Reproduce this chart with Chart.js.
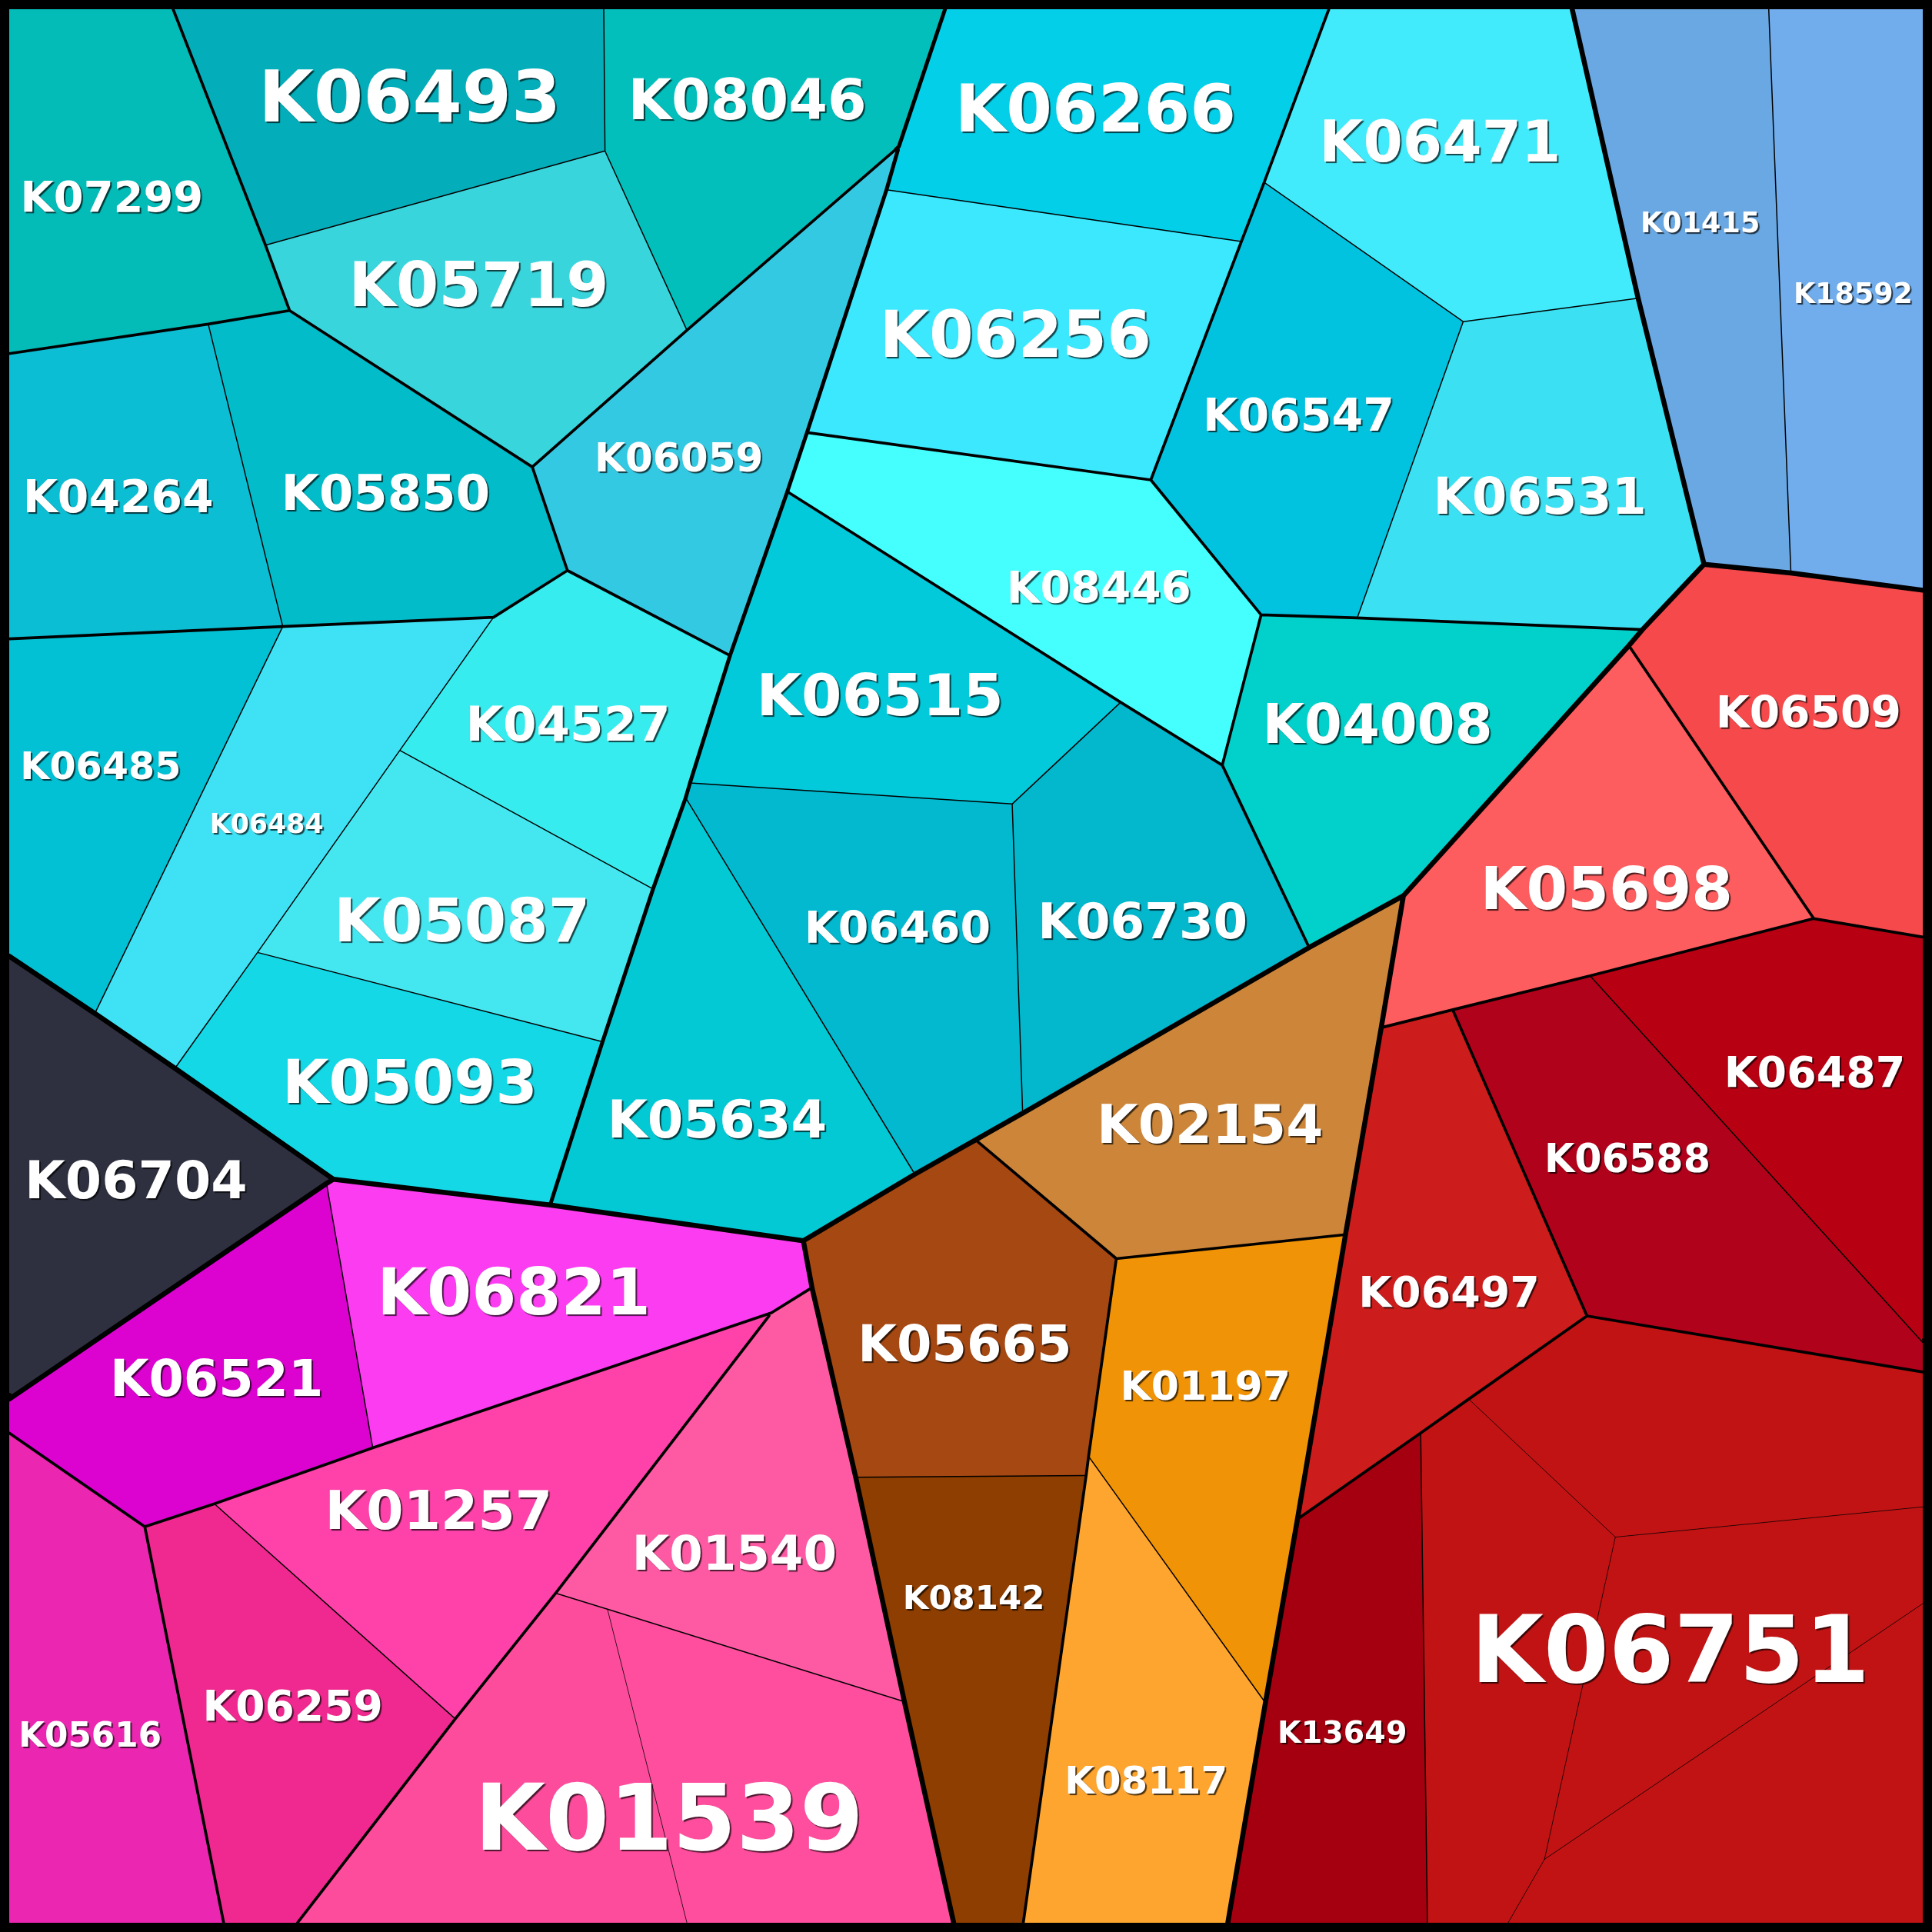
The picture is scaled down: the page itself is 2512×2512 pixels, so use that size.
<!DOCTYPE html>
<html>
<head>
<meta charset="utf-8">
<script src="https://cdn.jsdelivr.net/npm/chart.js@4.4.1/dist/chart.umd.min.js"></script>
<style>
  html, body { margin: 0; padding: 0; background: #000; }
  #wrap { width: 2512px; height: 2512px; }
</style>
</head>
<body>
<div id="wrap"><canvas id="myChart"></canvas></div>
<script>
// voronoi treemap cells, coordinates in picture units (0..1568)
const cellLabels = [
  "K07299", "K06493", "K08046", "K05719", "K04264", "K05850", "K06059",
  "K04527", "K05087", "K05093", "K06484", "K06485",
  "K06266", "K06256", "K06471", "K06547", "K06531", "K08446", "K04008",
  "K06515", "K06460", "K06730", "K05634",
  "K01415", "K18592", "K06704",
  "K06821", "K06521", "K05616", "K06259", "K01257", "K01540", "K01539", "K01539",
  "K02154", "K05665", "K08142", "K01197", "K08117",
  "K06509", "K05698", "K06487", "K06588", "K06497", "K13649",
  "K06751", "K06751", "K06751", "K06751"
];

// hierarchy: group / subgroup / cluster
const cellGroups = [
  "C/CL/t1", "C/CL/t2", "C/CL/t2", "C/CL/t2", "C/CL/t3", "C/CL/t3", "C/CL/t4",
  "C/CL/t5", "C/CL/t5", "C/CL/t5", "C/CL/t5", "C/CL/t5",
  "C/CR/r1", "C/CR/r1", "C/CR/r2", "C/CR/r2", "C/CR/r2", "C/CR/r3", "C/CR/r4",
  "C/CR/r5", "C/CR/r5", "C/CR/r5", "C/CR/r5",
  "B/B/b", "B/B/b", "D/D/d",
  "P/P/p1", "P/P/p1", "P/P/p2", "P/P/p3", "P/P/p3", "P/P/p4", "P/P/p4", "P/P/p4",
  "O/O/o1", "O/O/o2", "O/O/o2", "O/O/o3", "O/O/o3",
  "R/R/e1", "R/R/e2", "R/R/e3", "R/R/e3", "R/R/e4", "R/R/e5",
  "R/R/e5", "R/R/e5", "R/R/e5", "R/R/e5"
];

const cellColors = [
  "#03BCB8", "#03AEBA", "#03BFBC", "#38D5DC", "#0CBED4", "#03BCC9", "#34C9E3",
  "#36ECEE", "#44E7F0", "#14D8E6", "#3FE2F5", "#03C1D4",
  "#03CFE9", "#3BE8FE", "#41EBFB", "#02C3DF", "#3BE1F2", "#45FFFF", "#02D0CB",
  "#03CADB", "#02B9CF", "#03B7CD", "#03C9D5",
  "#6AA8E3", "#71ADEC", "#2E303F",
  "#FC3CF0", "#DC03D0", "#EB27B1", "#EF298F", "#FE42AA", "#FE5AA4", "#FE4C9C", "#FE4E9D",
  "#CD8639", "#A64812", "#8D3E00", "#F09306", "#FEA52F",
  "#F5494B", "#FE5D5F", "#B80013", "#B0021A", "#CC1D1C", "#A5000F",
  "#C11314", "#C11314", "#C11314", "#C11314"
];

const cellShapes = [
  [[7.5,7.5],[140.5,7.5],[215.5,199],[235,252],[169,263],[7.5,287]],
  [[140.5,7.5],[490,7.5],[491,122.5],[215.5,199]],
  [[490,7.5],[767,7.5],[729.5,119],[557.5,268],[491,122.5]],
  [[215.5,199],[491,122.5],[557.5,268],[432,379],[235,252]],
  [[7.5,287],[169,263],[229.5,508.5],[7.5,518.5]],
  [[169,263],[235,252],[432,379],[460.5,463],[400.5,501],[229.5,508.5]],
  [[729.5,119],[719.5,154],[655,351],[639,399],[592.5,532],[460.5,463],[432,379],[557.5,268]],
  [[460.5,463],[592.5,532],[560,635.5],[556.5,647.5],[530,721.5],[324.5,609],[400.5,501]],
  [[324.5,609],[530,721.5],[489,845.5],[209,773]],
  [[209,773],[489,845.5],[446.5,978],[270.5,957],[142,867]],
  [[229.5,508.5],[400.5,501],[324.5,609],[209,773],[142,867],[77,822.5]],
  [[7.5,518.5],[229.5,508.5],[77,822.5],[7.5,776]],
  [[767,7.5],[1078.5,7.5],[1026,148],[1007.5,196],[719.5,154],[729.5,119]],
  [[719.5,154],[1007.5,196],[934,389.5],[655,351]],
  [[1078.5,7.5],[1276,7.5],[1329.5,242],[1187.5,261],[1026,148]],
  [[1026,148],[1187.5,261],[1101.5,501.5],[1023.5,499],[934,389.5],[1007.5,196]],
  [[1187.5,261],[1329.5,242],[1383,458],[1333,511],[1101.5,501.5]],
  [[655,351],[934,389.5],[1023.5,499],[992,621],[909.5,570],[639,399]],
  [[1023.5,499],[1101.5,501.5],[1333,511],[1322,524],[1139,727],[1062.5,769],[992,621]],
  [[639,399],[909.5,570],[821.5,652.5],[560,635.5],[592.5,532]],
  [[560,635.5],[821.5,652.5],[830,903.5],[742.5,953],[556.5,647.5]],
  [[909.5,570],[992,621],[1062.5,769],[830,903.5],[821.5,652.5]],
  [[556.5,647.5],[742.5,953],[652,1007],[446.5,978],[489,845.5],[530,721.5]],
  [[1276,7.5],[1435.5,7.5],[1453.5,465],[1383,458],[1329.5,242]],
  [[1435.5,7.5],[1560.5,7.5],[1560.5,479],[1453.5,465]],
  [[7.5,776],[77,822.5],[142,867],[270.5,957],[265,960.5],[7.5,1135.5]],
  [[270.5,957],[446.5,978],[652,1007],[659,1045],[626,1065.5],[302.5,1175],[265,960.5]],
  [[7.5,1135.5],[265,960.5],[302.5,1175],[174,1220.5],[117.5,1239],[7.5,1163]],
  [[7.5,1163],[117.5,1239],[181.5,1560.5],[7.5,1560.5]],
  [[117.5,1239],[174,1220.5],[369.5,1395],[241.5,1560.5],[181.5,1560.5]],
  [[174,1220.5],[302.5,1175],[626,1065.5],[451,1293],[369.5,1395]],
  [[626,1065.5],[659,1045],[694.5,1199],[734,1381],[493,1306],[451,1293]],
  [[451,1293],[493,1306],[557.5,1560.5],[241.5,1560.5],[369.5,1395]],
  [[493,1306],[734,1381],[774,1560.5],[557.5,1560.5]],
  [[793.5,926.5],[830,903.5],[1062.5,769],[1139,727],[1121,834],[1092,1002],[906,1021.5]],
  [[652,1007],[742.5,953],[793.5,926.5],[906,1021.5],[883.5,1182],[881.5,1197.5],[694.5,1199],[659,1045]],
  [[694.5,1199],[881.5,1197.5],[830.5,1560.5],[774,1560.5],[734,1381]],
  [[906,1021.5],[1092,1002],[1053,1233],[1027,1382],[883.5,1182]],
  [[883.5,1182],[1027,1382],[996.5,1560.5],[830.5,1560.5],[881.5,1197.5]],
  [[1383,458],[1453.5,465],[1560.5,479],[1560.5,760.5],[1472,745.5],[1322,524],[1333,511]],
  [[1139,727],[1322,524],[1472,745.5],[1290.5,792],[1179,819.5],[1121,834]],
  [[1472,745.5],[1560.5,760.5],[1560.5,1089.5],[1290.5,792]],
  [[1290.5,792],[1560.5,1089.5],[1560.5,1113.5],[1288,1068],[1179,819.5]],
  [[1121,834],[1179,819.5],[1288,1068],[1192,1135.5],[1153,1163],[1053,1233],[1092,1002]],
  [[1053,1233],[1153,1163],[1158.5,1560.5],[996.5,1560.5],[1027,1382]],
  [[1153,1163],[1192,1135.5],[1311,1247.5],[1253.5,1509],[1224,1560.5],[1158.5,1560.5]],
  [[1192,1135.5],[1288,1068],[1560.5,1113.5],[1560.5,1223],[1311,1247.5]],
  [[1311,1247.5],[1560.5,1223],[1560.5,1301.5],[1253.5,1509]],
  [[1253.5,1509],[1560.5,1301.5],[1560.5,1560.5],[1224,1560.5]]
];

// one label per leaf
const labelNames = [
  "K07299", "K06493", "K08046", "K05719", "K04264", "K05850", "K06059",
  "K06266", "K06256", "K08446", "K06471", "K06547", "K06531", "K01415", "K18592",
  "K04008", "K06515", "K06460", "K06730", "K05634", "K04527", "K05087", "K05093",
  "K06484", "K06485", "K06704", "K06821", "K06521", "K01257", "K06259", "K05616",
  "K01540", "K01539", "K05665", "K08142", "K01197", "K08117", "K02154",
  "K05698", "K06509", "K06487", "K06588", "K06497", "K13649", "K06751"
];
const labelX = [
  90.7, 332.6, 606.5, 388.6, 95.9, 312.9, 551,
  889.1, 824.1, 891.8, 1168.7, 1054, 1249.8, 1379.9, 1504,
  1118, 714.2, 728.4, 927.4, 582, 461, 375, 332.6,
  216.4, 81.7, 110.4, 417, 175.8, 356, 237.6, 73.1,
  596, 543, 783, 790.3, 978.3, 930.2, 982,
  1303.9, 1467.7, 1472.8, 1320.8, 1176, 1089.4, 1355.6
];
const labelY = [
  159.2, 77.5, 80, 230.6, 402.3, 399.4, 371,
  87.1, 270.8, 476.4, 114.3, 336, 401.9, 180.2, 237.9,
  587, 563.2, 752.3, 746.7, 908, 587, 746.5, 877.6,
  667.8, 621.4, 957.2, 1048, 1118, 1225.1, 1383.5, 1407.8,
  1260, 1474, 1089.9, 1296, 1124.5, 1444.1, 912,
  720.2, 577.6, 869.6, 939.6, 1048, 1405.7, 1337.6
];
const labelSize = [
  34.9, 57.7, 45.5, 49.6, 36.4, 39.9, 32.2,
  53.6, 51.9, 35.2, 46.1, 36.5, 40.7, 22.8, 22.7,
  43.9, 47.1, 35.6, 40.1, 41.9, 39.1, 48.9, 48.7,
  21.7, 30.7, 42.5, 52.2, 40.7, 43.4, 34.4, 27.3,
  39.1, 74.2, 40.8, 27.1, 32.5, 31.1, 43.2,
  48.2, 35.4, 34.6, 31.7, 34.6, 24.7, 76.1
];

// border width by hierarchy level where two neighbouring cells part
const lineWidths = [6.5, 5, 3.7, 1.5, 0.7];

let seen = {};
let paths = cellLabels.map(function(name, i) {
  let n = seen[name] || 0;
  seen[name] = n + 1;
  return cellGroups[i].split("/").concat([name, String(n)]);
});

function inside(pt, poly) {
  let c = false;
  for (let i = 0, j = poly.length - 1; i < poly.length; j = i++) {
    let xi = poly[i][0], yi = poly[i][1], xj = poly[j][0], yj = poly[j][1];
    if ((yi > pt[1]) !== (yj > pt[1]) &&
        pt[0] < (xj - xi) * (pt[1] - yi) / (yj - yi) + xi) c = !c;
  }
  return c;
}

function cellAt(pt, skip) {
  for (let k = 0; k < cellShapes.length; k++) {
    if (k !== skip && inside(pt, cellShapes[k])) return k;
  }
  return -1;
}

function level(a, b) {
  let pa = paths[a], pb = paths[b];
  for (let i = 0; i < pa.length; i++) {
    if (pa[i] !== pb[i]) return i;
  }
  return pa.length - 1;
}

// walk every cell edge, find who is on the other side
let edgeData = lineWidths.map(function() { return []; });
cellShapes.forEach(function(poly, i) {
  for (let v = 0; v < poly.length; v++) {
    let p = poly[v], q = poly[(v + 1) % poly.length];
    let dx = q[0] - p[0], dy = q[1] - p[1];
    let len = Math.hypot(dx, dy);
    let steps = Math.max(1, Math.ceil(len / 3));
    let nx = -dy / len, ny = dx / len;
    let run = null;
    let flush = function(r, t1) {
      if (r.lvl < 0) return;
      edgeData[r.lvl].push(
        {x: p[0] + dx * r.t0, y: p[1] + dy * r.t0},
        {x: p[0] + dx * t1, y: p[1] + dy * t1},
        {x: null, y: null});
    };
    for (let s = 0; s < steps; s++) {
      let t = (s + 0.5) / steps;
      let mx = p[0] + dx * t, my = p[1] + dy * t;
      let j = -1;
      [1.2, 2.5, 4].some(function(d) {
        j = cellAt([mx + nx * d, my + ny * d], i);
        if (j < 0) j = cellAt([mx - nx * d, my - ny * d], i);
        return j >= 0;
      });
      let lvl = j > i ? level(i, j) : -1;
      if (run && run.lvl !== lvl) {
        flush(run, s / steps);
        run = null;
      }
      if (!run) run = {lvl: lvl, t0: s / steps};
    }
    if (run) flush(run, 1);
  }
});

let datasets = cellShapes.map(function(poly, i) {
  return {
    label: cellLabels[i],
    data: poly.concat([poly[0]]).map(function(pt) { return {x: pt[0], y: pt[1]}; }),
    showLine: true,
    fill: 'shape',
    backgroundColor: cellColors[i],
    borderWidth: 0,
    pointRadius: 0,
    order: 10
  };
});

edgeData.forEach(function(data, lvl) {
  datasets.push({
    label: 'edges ' + lvl,
    data: data,
    showLine: true,
    spanGaps: false,
    fill: false,
    borderColor: '#000',
    borderWidth: lineWidths[lvl],
    borderCapStyle: 'round',
    borderJoinStyle: 'round',
    pointRadius: 0,
    order: lvl
  });
});

const labelPlugin = {
  id: 'cellLabels',
  afterDatasetsDraw(chart) {
    const ctx = chart.ctx;
    const xs = chart.scales.x, ys = chart.scales.y;
    const unit = (xs.getPixelForValue(1568) - xs.getPixelForValue(0)) / 1568;
    ctx.save();
    ctx.textAlign = 'center';
    ctx.textBaseline = 'alphabetic';
    ctx.fillStyle = '#fff';
    ctx.shadowColor = 'rgba(0,0,0,0.7)';
    ctx.shadowOffsetX = 2;
    ctx.shadowOffsetY = 2;
    ctx.shadowBlur = 1;
    labelNames.forEach(function(name, i) {
      let size = labelSize[i] * unit;
      ctx.font = 'bold ' + size.toFixed(1) + 'px "DejaVu Sans"';
      ctx.fillText(name, xs.getPixelForValue(labelX[i]),
        ys.getPixelForValue(labelY[i]) + size * 0.3645);
    });
    ctx.restore();
  }
};

new Chart(document.getElementById('myChart'), {
  type: 'scatter',
  data: { datasets: datasets },
  options: {
    responsive: true,
    maintainAspectRatio: false,
    animation: false,
    events: [],
    layout: { padding: 0 },
    plugins: { legend: { display: false }, tooltip: { enabled: false } },
    scales: {
      x: { type: 'linear', min: 0, max: 1568, display: false },
      y: { type: 'linear', min: 0, max: 1568, reverse: true, display: false }
    }
  },
  plugins: [labelPlugin]
});
</script>
</body>
</html>
